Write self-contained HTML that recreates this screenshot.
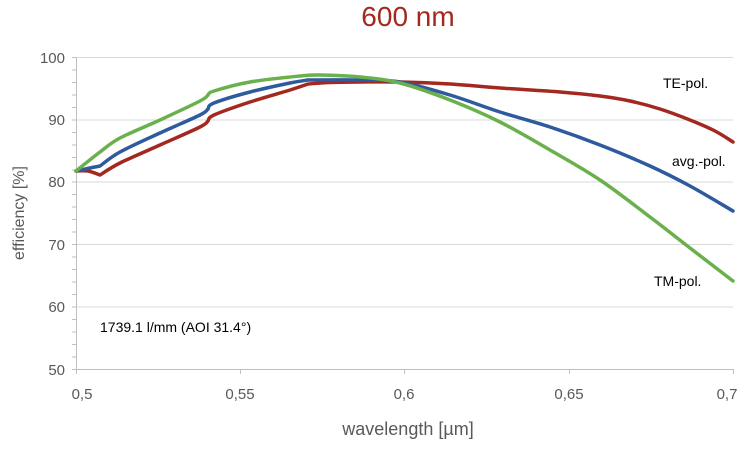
<!DOCTYPE html>
<html><head><meta charset="utf-8"><style>
body{margin:0;background:#fff;width:755px;height:451px;overflow:hidden}
svg text{font-family:"Liberation Sans",Calibri,sans-serif}
</style></head><body>
<svg width="755" height="451" viewBox="0 0 755 451" xmlns="http://www.w3.org/2000/svg">
<text x="408" y="26" text-anchor="middle" font-size="28" fill="#a3281f">600 nm</text>
<g stroke="#d9d9d9" stroke-width="1">
<line x1="76" y1="57.5" x2="733" y2="57.5"/>
<line x1="76" y1="120" x2="733" y2="120"/>
<line x1="76" y1="182" x2="733" y2="182"/>
<line x1="76" y1="244.5" x2="733" y2="244.5"/>
<line x1="76" y1="307" x2="733" y2="307"/>
</g>
<g stroke="#bfbfbf" stroke-width="1">
<line x1="76.5" y1="57" x2="76.5" y2="369"/>
<line x1="76" y1="369.5" x2="733" y2="369.5"/>
<path d="M72 57.5h4M72 70h4M72 82.5h4M72 95h4M72 107.5h4M72 120h4M72 132.5h4M72 145h4M72 157.5h4M72 170h4M72 182h4M72 194.5h4M72 207h4M72 219.5h4M72 232h4M72 244.5h4M72 257h4M72 269.5h4M72 282h4M72 294.5h4M72 307h4M72 319.5h4M72 332h4M72 344.5h4M72 357h4M72 369.5h4"/>
<path d="M76.5 369v5M240.5 369v5M404.5 369v5M569.5 369v5M733.5 369v5"/>
</g>
<g font-size="15" fill="#595959" text-anchor="end">
<text x="65" y="63">100</text><text x="65" y="125">90</text><text x="65" y="187">80</text>
<text x="65" y="250">70</text><text x="65" y="312">60</text><text x="65" y="375">50</text>
</g>
<g font-size="15" fill="#595959" text-anchor="middle">
<text x="82" y="399">0,5</text><text x="240" y="399">0,55</text><text x="404" y="399">0,6</text>
<text x="569" y="399">0,65</text><text x="727" y="399">0,7</text>
</g>
<text x="408" y="435" text-anchor="middle" font-size="18" fill="#595959">wavelength [µm]</text>
<text transform="translate(24 213) rotate(-90)" text-anchor="middle" font-size="16" fill="#595959">efficiency [%]</text>
<text x="100" y="332" font-size="14" fill="#000">1739.1 l/mm (AOI 31.4°)</text>
<g font-size="14" fill="#000">
<text x="663" y="88">TE-pol.</text>
<text x="672" y="166">avg.-pol.</text>
<text x="654" y="286">TM-pol.</text>
</g>
<g fill="none" stroke-width="3.5" stroke-linejoin="round" stroke-linecap="round">
<path id="r" stroke="#a3281f"/>
<path id="b" stroke="#2e5a9e"/>
<path id="g" stroke="#6ab04c"/>
</g>
</svg>
<script>
function seg(p){let d='M'+p[0][0]+' '+p[0][1];for(let i=0;i<p.length-1;i++){const p0=p[i-1]||p[i],p1=p[i],p2=p[i+1],p3=p[i+2]||p2;const c1=[p1[0]+(p2[0]-p0[0])/6,p1[1]+(p2[1]-p0[1])/6],c2=[p2[0]-(p3[0]-p1[0])/6,p2[1]-(p3[1]-p1[1])/6];d+=' C'+c1+' '+c2+' '+p2;}return d;}
function mk(parts){return parts.map((p,i)=>{let s=seg(p);return i?s.replace('M','L'):s}).join(' ');}
document.getElementById('r').setAttribute('d',mk([[[76,171],[88,171],[100,175]],[[100,175],[120,163],[160,145],[200,127],[208,121]],[[208,121],[214,115],[250,102],[290,90],[308,84]],[[308,84],[330,82.5],[360,82],[400,82],[450,84],[500,88],[560,92],[600,96],[630,101],[660,109],[690,120],[715,131],[733,142]]]));
document.getElementById('b').setAttribute('d',mk([[[76,171],[90,168],[100,166]],[[100,166],[120,152],[160,133],[200,115],[208,109]],[[208,109],[214,103],[250,92],[290,83],[308,80]],[[308,80],[360,80],[400,82],[450,95],[500,112],[550,127],[600,145],[650,166],[690,186],[733,211]]]));
document.getElementById('g').setAttribute('d',mk([[[76,171],[100,152],[120,138],[160,120],[200,101],[208,95]],[[208,95],[214,91],[250,82],[300,76],[320,75],[360,77],[400,83],[450,100],[500,122],[550,150],[600,180],[650,217],[690,248],[733,281]]]));
</script>
</body></html>
